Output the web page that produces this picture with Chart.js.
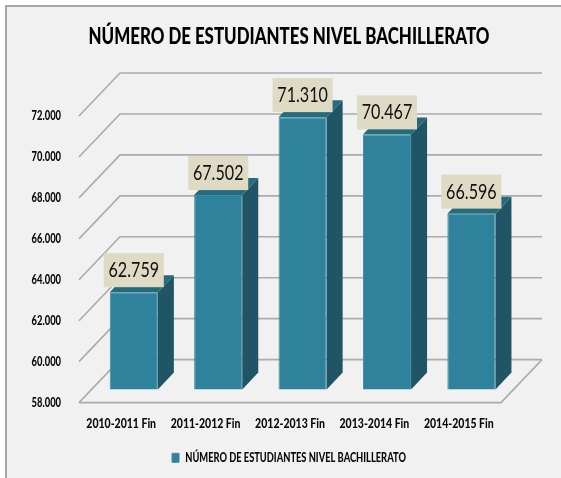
<!DOCTYPE html>
<html>
<head>
<meta charset="utf-8">
<style>
  html, body { margin: 0; padding: 0; background: #fff; }
  canvas { display: block; }
</style>
<script src="https://cdn.jsdelivr.net/npm/chart.js@4"></script>
</head>
<body>
<canvas id="myChart" width="561" height="478"></canvas>
<script>
const titleText = 'NÚMERO DE ESTUDIANTES NIVEL BACHILLERATO';
const categories = ['2010-2011 Fin', '2011-2012 Fin', '2012-2013 Fin', '2013-2014 Fin', '2014-2015 Fin'];
const students = [62759, 67502, 71310, 70467, 66596];

const fontName = 'Lato, "Liberation Sans", sans-serif';
const fmt = (v) => new Intl.NumberFormat('de-DE', { useGrouping: 'always' }).format(v);

// depth of the fake 3D box
const wallDx = 41, wallDy = -43;
const barDx = 12.6, barDy = -13;
const sideDx = 16, sideDy = -17;

// the original font is condensed, no such font here so squeeze the text
const squeeze = 0.75;
const canvas = document.getElementById('myChart');
const c2d = canvas.getContext('2d');
const rawFill = c2d.fillText.bind(c2d);
const rawMeasure = c2d.measureText.bind(c2d);
c2d.measureText = (t) => ({ width: rawMeasure(t).width * squeeze });
c2d.fillText = (t, x, y) => rawFill(t, x, y, rawMeasure(t).width * squeeze);

function fillPoly(ctx, color, pts) {
    ctx.fillStyle = color;
    ctx.beginPath();
    pts.forEach((p, i) => i ? ctx.lineTo(p[0], p[1]) : ctx.moveTo(p[0], p[1]));
    ctx.closePath();
    ctx.fill();
}

const box3d = {
    id: 'box3d',
    afterLayout(chart) {
        // tick labels get clipped to the scale box, let them use the left margin
        chart.scales.y.left = 0;
    },
    beforeDraw(chart) {
        const ctx = chart.ctx;
        ctx.save();
        ctx.fillStyle = '#ffffff';
        ctx.fillRect(0, 0, chart.width, chart.height);
        ctx.fillStyle = '#a6a6a6';
        ctx.fillRect(5, 5, chart.width - 5, chart.height - 5);
        ctx.fillStyle = '#f1f1f1';
        ctx.fillRect(7, 7, chart.width - 7, chart.height - 7);
        ctx.restore();
    },
    beforeDatasetsDraw(chart) {
        const ctx = chart.ctx;
        const area = chart.chartArea;
        const y = chart.scales.y;
        ctx.save();
        ctx.strokeStyle = '#ababab';
        ctx.lineWidth = 1.6;
        y.ticks.forEach((t) => {
            const py = y.getPixelForValue(t.value);
            ctx.beginPath();
            ctx.moveTo(area.left, py);
            ctx.lineTo(area.left + wallDx, py + wallDy);
            ctx.lineTo(area.right + wallDx, py + wallDy);
            ctx.stroke();
        });
        // floor front edge
        const base = y.getPixelForValue(y.min);
        ctx.beginPath();
        ctx.moveTo(area.left, base);
        ctx.lineTo(area.right, base);
        ctx.lineTo(area.right + wallDx, base + wallDy);
        ctx.stroke();
        // side and top faces, the front face comes from the bar controller
        chart.getDatasetMeta(0).data.forEach((bar) => {
            const right = bar.x + bar.width / 2 + barDx;
            const left = bar.x - bar.width / 2 + barDx;
            const top = bar.y + barDy;
            const bottom = bar.base + barDy;
            fillPoly(ctx, '#1f5564', [[right, top], [right + sideDx, top + sideDy], [right + sideDx, bottom + sideDy], [right, bottom]]);
            fillPoly(ctx, '#256b7e', [[left, top], [left + sideDx, top + sideDy], [right + sideDx, top + sideDy], [right, top]]);
        });
        ctx.restore();
    },
    beforeDatasetDraw(chart) {
        chart.ctx.save();
        chart.ctx.translate(barDx, barDy);
    },
    afterDatasetDraw(chart) {
        chart.ctx.restore();
    },
    afterDatasetsDraw(chart) {
        const ctx = chart.ctx;
        ctx.save();
        ctx.font = '21.5px ' + fontName;
        ctx.textAlign = 'center';
        ctx.textBaseline = 'middle';
        chart.getDatasetMeta(0).data.forEach((bar, i) => {
            const cx = bar.x + barDx;
            const bottom = bar.y + barDy - 5;
            ctx.fillStyle = '#dedac3';
            ctx.fillRect(cx - 30, bottom - 34, 60, 34);
            ctx.fillStyle = '#111111';
            ctx.fillText(fmt(students[i]), cx, bottom - 17);
        });
        ctx.restore();
    }
};

new Chart(canvas, {
    type: 'bar',
    data: {
        labels: categories,
        datasets: [{
            label: titleText,
            data: students,
            base: 58000,
            backgroundColor: '#2e829b',
            borderColor: '#3f8ca3',
            borderWidth: 1,
            barPercentage: 0.57,
            categoryPercentage: 1,
            clip: false
        }]
    },
    options: {
        responsive: false,
        animation: false,
        // left/right padding also centres the title and legend as in the original
        layout: { padding: { left: 77, right: 60, top: 0, bottom: 4 } },
        scales: {
            x: {
                grid: { display: false },
                border: { display: false },
                afterFit: (s) => { s.height = 39; },
                ticks: {
                    color: '#0a0a0a',
                    padding: 4,
                    autoSkip: false,
                    maxRotation: 0,
                    font: { family: fontName, size: 14, weight: '900' }
                }
            },
            y: {
                min: 58000,
                max: 72000,
                grid: { display: false },
                border: { display: false },
                afterFit: (s) => { s.width = 2; },
                ticks: {
                    stepSize: 2000,
                    color: '#0a0a0a',
                    padding: 10,
                    callback: (value) => fmt(value),
                    font: { family: fontName, size: 12.5, weight: '900' }
                }
            }
        },
        plugins: {
            tooltip: { enabled: false },
            title: {
                display: true,
                text: titleText,
                color: '#000',
                padding: { top: 23, bottom: 66 },
                font: { family: fontName, size: 22.5, weight: '900' }
            },
            legend: {
                position: 'bottom',
                labels: {
                    color: '#0a0a0a',
                    boxWidth: 7,
                    boxHeight: 9,
                    padding: 10,
                    font: { family: fontName, size: 12.4, weight: '900' }
                }
            }
        }
    },
    plugins: [box3d]
});
</script>
</body>
</html>
